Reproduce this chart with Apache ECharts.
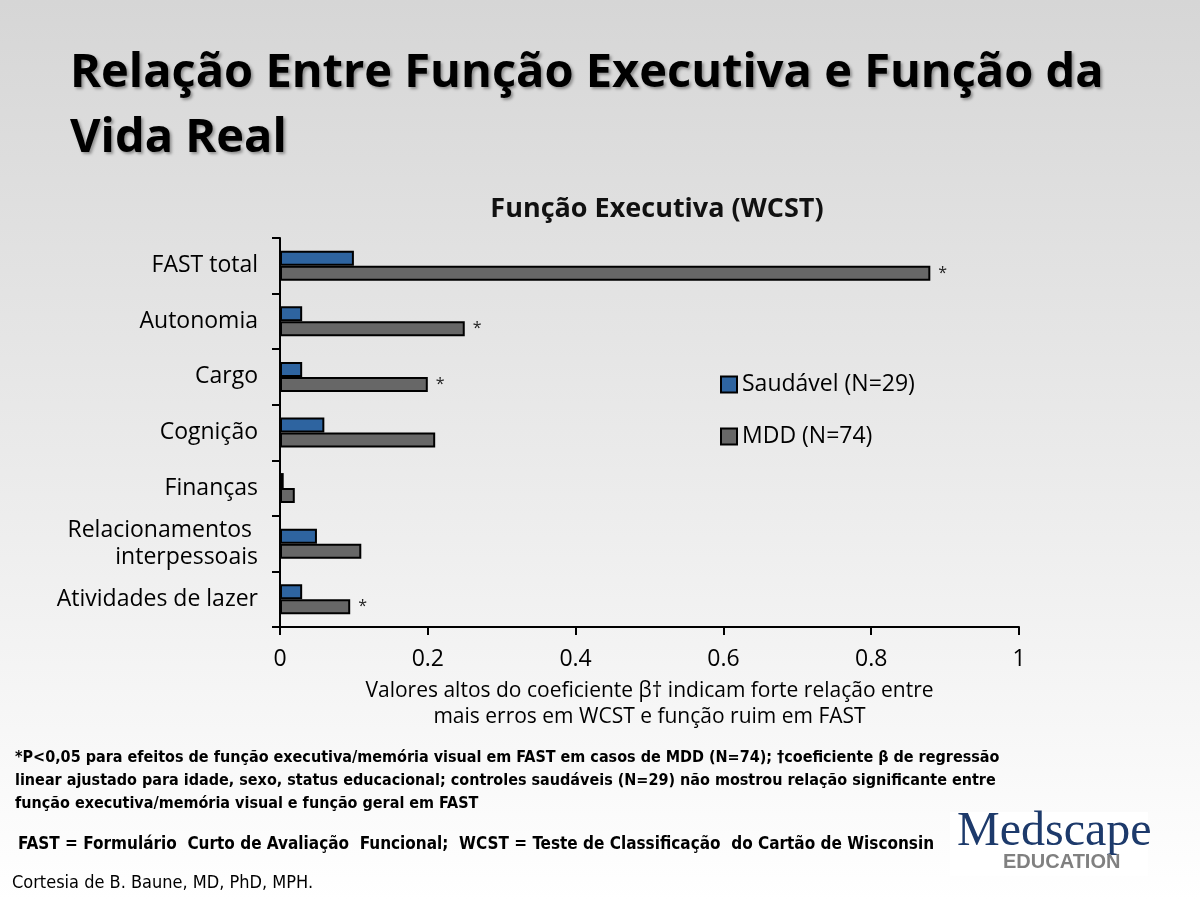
<!DOCTYPE html>
<html><head><meta charset="utf-8">
<script src="https://cdn.jsdelivr.net/npm/echarts@6/dist/echarts.min.js"></script>
<style>html,body{margin:0;padding:0;}#c{width:1200px;height:900px;}</style>
</head><body><div id="c"></div>
<script>
const categories = ['FAST total','Autonomia','Cargo','Cognição','Finanças','Relacionamentos \ninterpessoais','Atividades de lazer'];
const saudavel = [0.10, 0.03, 0.03, 0.06, 0.005, 0.05, 0.03];
const mdd = [0.88, 0.25, 0.20, 0.21, 0.02, 0.11, 0.095];
const significant = [true, true, true, false, false, false, true];
const seriesNames = ['Saudável (N=29)', 'MDD (N=74)'];
const xTicks = [0, 0.2, 0.4, 0.6, 0.8, 1];

const chart = echarts.init(document.getElementById('c'));
const bodyFont = '"Open Sans", "Noto Sans", sans-serif';
const condFont = '"DejaVu Sans Condensed", "Liberation Sans Narrow", sans-serif';
chart.setOption({
  backgroundColor: {type:'linear', x:0, y:0, x2:0, y2:1, colorStops:[{offset:0,color:'#d6d6d6'},{offset:0.55,color:'#ececec'},{offset:1,color:'#ffffff'}]},
  animation: false,
  title: {
    text: 'Função Executiva (WCST)', left: 652, textAlign: 'center', top: 191,
    textStyle: {fontFamily: bodyFont, fontSize: 27, fontWeight: 'bold', color: '#111'}
  },
  legend: {
    orient: 'vertical', left: 715, top: 368, itemWidth: 16, itemHeight: 16, itemGap: 29, icon: 'rect',
    textStyle: {fontFamily: bodyFont, fontSize: 23, color: '#000'},
    data: seriesNames
  },
  grid: {left: 280, right: 181, top: 238, bottom: 273, containLabel: false},
  xAxis: {
    type: 'value', min: 0, max: 1, interval: 0.2,
    axisLine: {show: true, lineStyle: {color: '#000', width: 2}},
    axisTick: {show: true, length: 8, lineStyle: {color: '#000', width: 2}},
    splitLine: {show: false},
    axisLabel: {fontFamily: bodyFont, fontSize: 23, color: '#000', margin: 21,
      formatter: v => { const t = xTicks.find(x => Math.abs(x - v) < 1e-9); return t === undefined ? '' : String(t); }},
    name: 'Valores altos do coeficiente β† indicam forte relação entre\nmais erros em WCST e função ruim em FAST',
    nameLocation: 'middle', nameGap: 51,
    nameTextStyle: {fontFamily: bodyFont, fontSize: 21, color: '#000', lineHeight: 26}
  },
  yAxis: {
    type: 'category', data: categories, inverse: true,
    axisLine: {show: true, lineStyle: {color: '#000', width: 2}},
    axisTick: {show: true, length: 8, lineStyle: {color: '#000', width: 2}},
    axisLabel: {fontFamily: bodyFont, fontSize: 23, color: '#000', margin: 22, lineHeight: 27, align: 'right'}
  },
  series: [
    {name: seriesNames[0], type: 'bar', data: saudavel, barWidth: 15, barGap: '0%',
     itemStyle: {color: '#2e64a0', borderColor: '#000', borderWidth: 2}},
    {name: seriesNames[1], type: 'bar', data: mdd, barWidth: 15, barGap: '0%',
     itemStyle: {color: '#676767', borderColor: '#000', borderWidth: 2},
     label: {show: true, position: 'right', distance: 8, fontFamily: bodyFont, fontSize: 16, color: '#222',
       formatter: p => significant[p.dataIndex] ? '*' : ''}}
  ],
  graphic: [
    {type: 'text', left: 70, top: 41, style: {text: 'Relação Entre Função Executiva e Função da\nVida Real', fontFamily: bodyFont, fontWeight: 'bold', fontSize: 47, lineHeight: 65, fill: '#000', textShadowColor: 'rgba(0,0,0,0.35)', textShadowBlur: 3, textShadowOffsetX: 2, textShadowOffsetY: 2}},
    {type: 'text', left: 15, top: 746, style: {text: '*P<0,05 para efeitos de função executiva/memória visual em FAST em casos de MDD (N=74); †coeficiente β de regressão\nlinear ajustado para idade, sexo, status educacional; controles saudáveis (N=29) não mostrou relação significante entre\nfunção executiva/memória visual e função geral em FAST', fontFamily: condFont, fontWeight: 'bold', fontSize: 16, lineHeight: 23, fill: '#000'}},
    {type: 'text', left: 18, top: 836, style: {text: 'FAST = Formulário  Curto de Avaliação  Funcional;  WCST = Teste de Classificação  do Cartão de Wisconsin', fontFamily: condFont, fontWeight: 'bold', fontSize: 17, fill: '#000'}},
    {type: 'text', left: 12, top: 874, style: {text: 'Cortesia de B. Baune, MD, PhD, MPH.', fontFamily: condFont, fontSize: 18, fill: '#000'}},
    {type: 'rect', shape: {x: 950, y: 812, width: 198, height: 64}, style: {fill: '#ffffff'}},
    {type: 'text', left: 957, top: 808, style: {text: 'Medscape', fontFamily: '"Liberation Serif", "DejaVu Serif", serif', fontSize: 48, fill: '#1d3a6b'}},
    {type: 'text', left: 1003, top: 852, style: {text: 'EDUCATION', fontFamily: '"Liberation Sans", sans-serif', fontWeight: 'bold', fontSize: 20, fill: '#808080'}}
  ]
});
</script></body></html>
